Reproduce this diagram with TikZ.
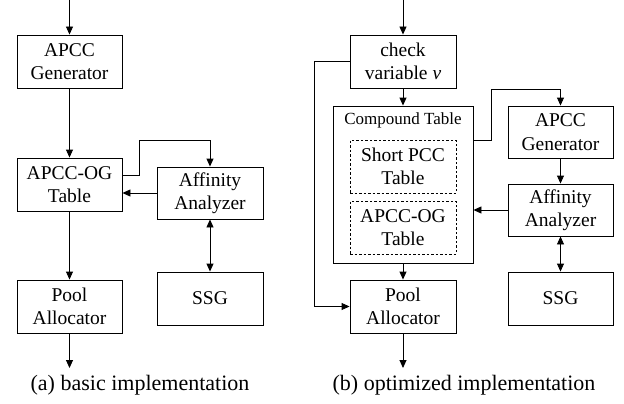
\documentclass[tikz,border=0pt]{standalone}
\usepackage{fontspec}
\setmainfont{Liberation Serif}
\usetikzlibrary{arrows.meta}

\begin{document}
\begin{tikzpicture}[x=1pt, y=-1pt, line width=0.9pt,
    >={Triangle[length=8pt,width=7pt]},
    blk/.style={draw, minimum width=105pt, minimum height=53pt, inner sep=0pt,
      align=center, font=\fontsize{19.5}{23.5}\selectfont},
    dblk/.style={blk, dashed, dash pattern=on 2.5pt off 2pt, line width=0.7pt},
    captxt/.style={font=\fontsize{22}{26}\selectfont}]

      \useasboundingbox (0,0) rectangle (624,404);

      % (a) basic implementation
      \coordinate (inA) at (69.5,0);
      \coordinate (outA) at (69.5,368);
      \node[blk] (genA) at (69.5,61.5) {APCC\\Generator};
      \node[blk] (ogA) at (69.5,184.5) {APCC-OG\\Table};
      \node[blk] (poolA) at (69.5,306.5) {Pool\\Allocator};
      \node[blk, minimum width=106pt, minimum height=52pt] (affA) at (210,193) {Affinity\\Analyzer};
      \node[blk, minimum width=106pt] (ssgA) at (210,298.5) {SSG};

      \draw[->] (inA) -- (genA.north);
      \draw[->] (genA) -- (ogA);
      \draw[->] (ogA) -- (poolA);
      \draw[->] (poolA.south) -- (outA);
      \draw[->] ([yshift=9.5pt]ogA.east) -- ++(17,0) -- ++(0,-35) -| (affA.north);
      \draw[->] (affA.west) -- (affA.west -| ogA.east);
      \draw[<->] (affA) -- (ssgA);
      \node[captxt] (capA) at (140,385) {(a) basic implementation};

      % (b) optimized implementation
      \coordinate (inB) at (403,0);
      \coordinate (outB) at (403,368);
      \node[blk, minimum width=106pt] (check) at (403,61.5) {check\\variable \textit{v}};
      \node[draw, minimum width=140pt, minimum height=157pt, inner sep=0pt] (comp) at (403,184.5) {};
      \node[font=\fontsize{17}{20}\selectfont] (compT) at (403,120) {Compound Table};
      \node[dblk, minimum width=106pt] (spcc) at (403,166.5) {Short PCC\\Table};
      \node[dblk, minimum width=106pt] (ogB) at (403,227.5) {APCC-OG\\Table};
      \node[blk, minimum width=106pt] (poolB) at (403,306.5) {Pool\\Allocator};
      \node[blk, minimum height=52pt] (genB) at (560.5,132) {APCC\\Generator};
      \node[blk, minimum height=52pt] (affB) at (560.5,210) {Affinity\\Analyzer};
      \node[blk] (ssgB) at (560.5,298.5) {SSG};

      \draw[->] (inB) -- (check.north);
      \draw[->] (check) -- (comp);
      \draw[->] (comp) -- (poolB);
      \draw[->] (poolB.south) -- (outB);
      \draw[->] (check.west) -- ++(-35,0) |- (poolB.west);
      \draw[->] ([yshift=44.5pt]comp.east) -- ++(18,0) -- ++(0,-51) -| (genB.north);
      \draw[->] (genB) -- (affB);
      \draw[->] (affB.west) -- (affB.west -| comp.east);
      \draw[<->] (affB) -- (ssgB);
      \node[captxt] (capB) at (464,385) {(b) optimized implementation};

\end{tikzpicture}
\end{document}
